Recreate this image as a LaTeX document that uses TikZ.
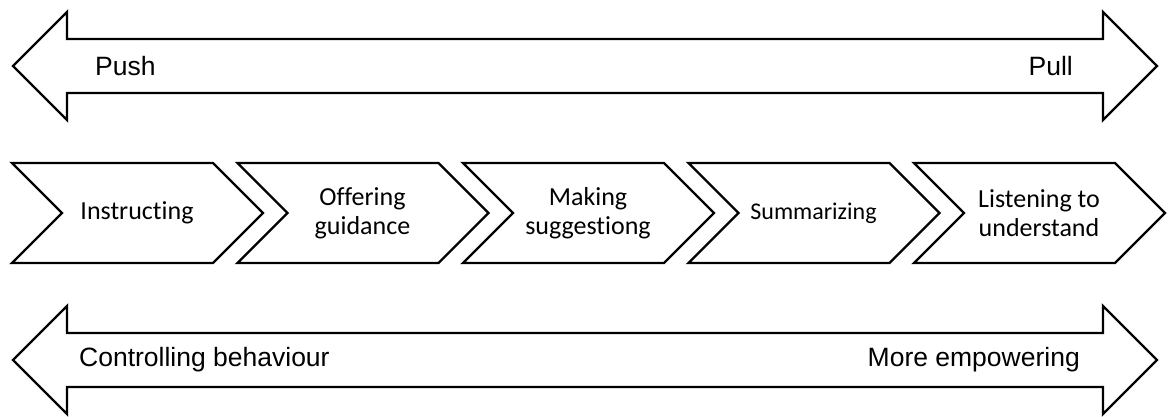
\documentclass[tikz,border=0pt]{standalone}
\usepackage{fontspec}
\newfontfamily\calfont[Ligatures=NoCommon]{Carlito}
\newfontfamily\arifont{Liberation Sans}
\begin{document}
\begin{tikzpicture}[x=1pt,y=-1pt,
  shapeline/.style={draw=black,line width=2.3pt,line join=miter,fill=white},
  chevtext/.style={font=\calfont\fontsize{26}{29}\selectfont,align=center,inner sep=0pt},
  arrtext/.style={font=\arifont\fontsize{26.5}{30}\selectfont,inner sep=0pt}]
\useasboundingbox (0,0) rectangle (1170,417);
% top double arrow
\draw[shapeline] (13,66) -- (67,12) -- (67,39) -- (1103,39) -- (1103,12) -- (1157,66)
  -- (1103,120) -- (1103,93) -- (67,93) -- (67,120) -- cycle;
\node[arrtext,anchor=west] (push) at (95,66) {Push};
\node[arrtext,anchor=east] (pull) at (1073,66) {Pull};
% bottom double arrow
\draw[shapeline] (13,360) -- (67,306) -- (67,333) -- (1103,333) -- (1103,306) -- (1157,360)
  -- (1103,414) -- (1103,387) -- (67,387) -- (67,414) -- cycle;
\node[arrtext,anchor=west] (ctrl) at (79,360) {Controlling behaviour};
\node[arrtext,anchor=east] (emp) at (1080,360) {More empowering};
% chevrons
\foreach \i/\t in {0/Instructing,1/{Offering\\guidance},2/{Making\\suggestiong},3/{\fontsize{24}{29}\selectfont Summarizing},4/{Listening to\\understand}}{
  \pgfmathsetmacro{\L}{12+225.5*\i}
  \draw[shapeline] (\L,163) -- ({\L+201},163) -- ({\L+251},213) -- ({\L+201},263)
    -- (\L,263) -- ({\L+50},213) -- cycle;
  \node[chevtext] (chev\i) at ({\L+125},213) {\t};
}
\end{tikzpicture}
\end{document}
